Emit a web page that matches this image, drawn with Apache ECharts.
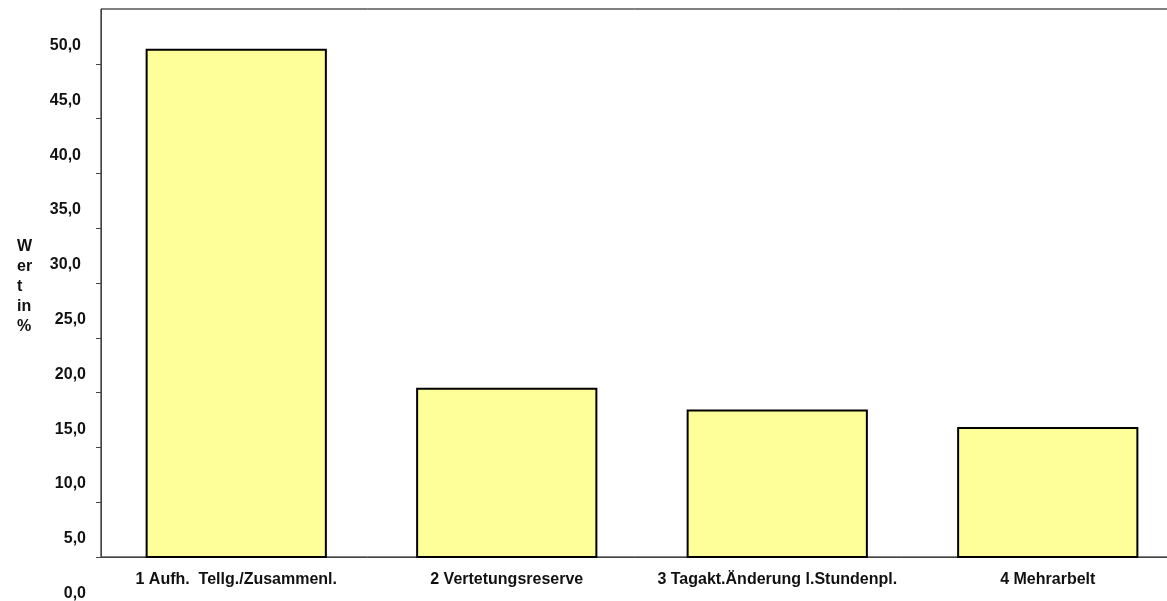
<!DOCTYPE html>
<html>
<head>
<meta charset="utf-8">
<script src="https://cdn.jsdelivr.net/npm/echarts@6/dist/echarts.min.js"></script>
<style>
  html, body { margin: 0; padding: 0; background: #fff; }
  #chart { width: 1167px; height: 601px; }
</style>
</head>
<body>
<div id="chart"></div>
<script>
// data (values against the printed scale labels)
var CATEGORIES = ['1 Aufh.  Tellg./Zusammenl.', '2 Vertetungsreserve', '3 Tagakt.Änderung l.Stundenpl.', '4 Mehrarbelt'];
var VALUES = [49.8, 18.7, 16.7, 15.1];
var Y_NAME = 'W\ner\nt\nin\n%';
var Y_TICKS = [0, 5, 10, 15, 20, 25, 30, 35, 40, 45]; // no tick mark at the top frame line

// german decimal comma
function fmt(v) {
  return v.toFixed(1).replace('.', ',');
}

var chart = echarts.init(document.getElementById('chart'));

var font = 'Liberation Sans, Arial, sans-serif';

var option = {
  animation: false,
  textStyle: { fontFamily: font },
  grid: {
    left: 101,
    top: 9,
    width: 1082,
    height: 548,
    show: true,
    borderColor: '#000',
    borderWidth: 1,
    outerBoundsMode: 'none'
  },
  // axis title, stacked letters left of the scale
  graphic: [
    {
      type: 'text',
      left: 17,
      top: 237,
      style: {
        text: Y_NAME,
        fontSize: 16,
        fontWeight: 'bold',
        lineHeight: 20,
        fill: '#111',
        fontFamily: font
      }
    }
  ],
  xAxis: {
    type: 'category',
    data: CATEGORIES,
    boundaryGap: true,
    axisLine: { lineStyle: { color: '#444', width: 1 } },
    axisTick: { length: 6, lineStyle: { color: '#444' } },
    axisLabel: {
      interval: 0,
      margin: 15,
      fontSize: 16,
      fontWeight: 'bold',
      color: '#111',
      fontFamily: font
    },
    splitLine: { show: false }
  },
  yAxis: [
    {
      // the printed scale: ticks on the frame, labels sit lower than their ticks
      type: 'value',
      min: 0,
      max: 50,
      interval: 5,
      axisLine: { show: true, lineStyle: { color: '#444', width: 1 } },
      axisTick: { show: true, length: 5, customValues: Y_TICKS, lineStyle: { color: '#444' } },
      splitLine: { show: false },
      axisLabel: {
        showMinLabel: true,
        showMaxLabel: true,
        margin: 15,
        padding: [73, 0, 0, 0],
        formatter: function (v) {
          return v >= 30 ? '{a|' + fmt(v) + '}' : '{b|' + fmt(v) + '}';
        },
        rich: {
          a: { fontSize: 16, fontWeight: 'bold', color: '#111', padding: [0, 5, 0, 0], fontFamily: font },
          b: { fontSize: 16, fontWeight: 'bold', color: '#111', fontFamily: font }
        }
      }
    },
    {
      // hidden scale the bars are drawn on, aligned with the printed labels
      type: 'value',
      min: 3.17,
      max: 53.44,
      show: false
    }
  ],
  series: [
    {
      type: 'bar',
      yAxisIndex: 1,
      data: VALUES,
      barCategoryGap: '33%',
      clip: true,
      itemStyle: {
        color: '#FFFF99',
        borderColor: '#000',
        borderWidth: 2
      }
    }
  ]
};

chart.setOption(option);
</script>
</body>
</html>
